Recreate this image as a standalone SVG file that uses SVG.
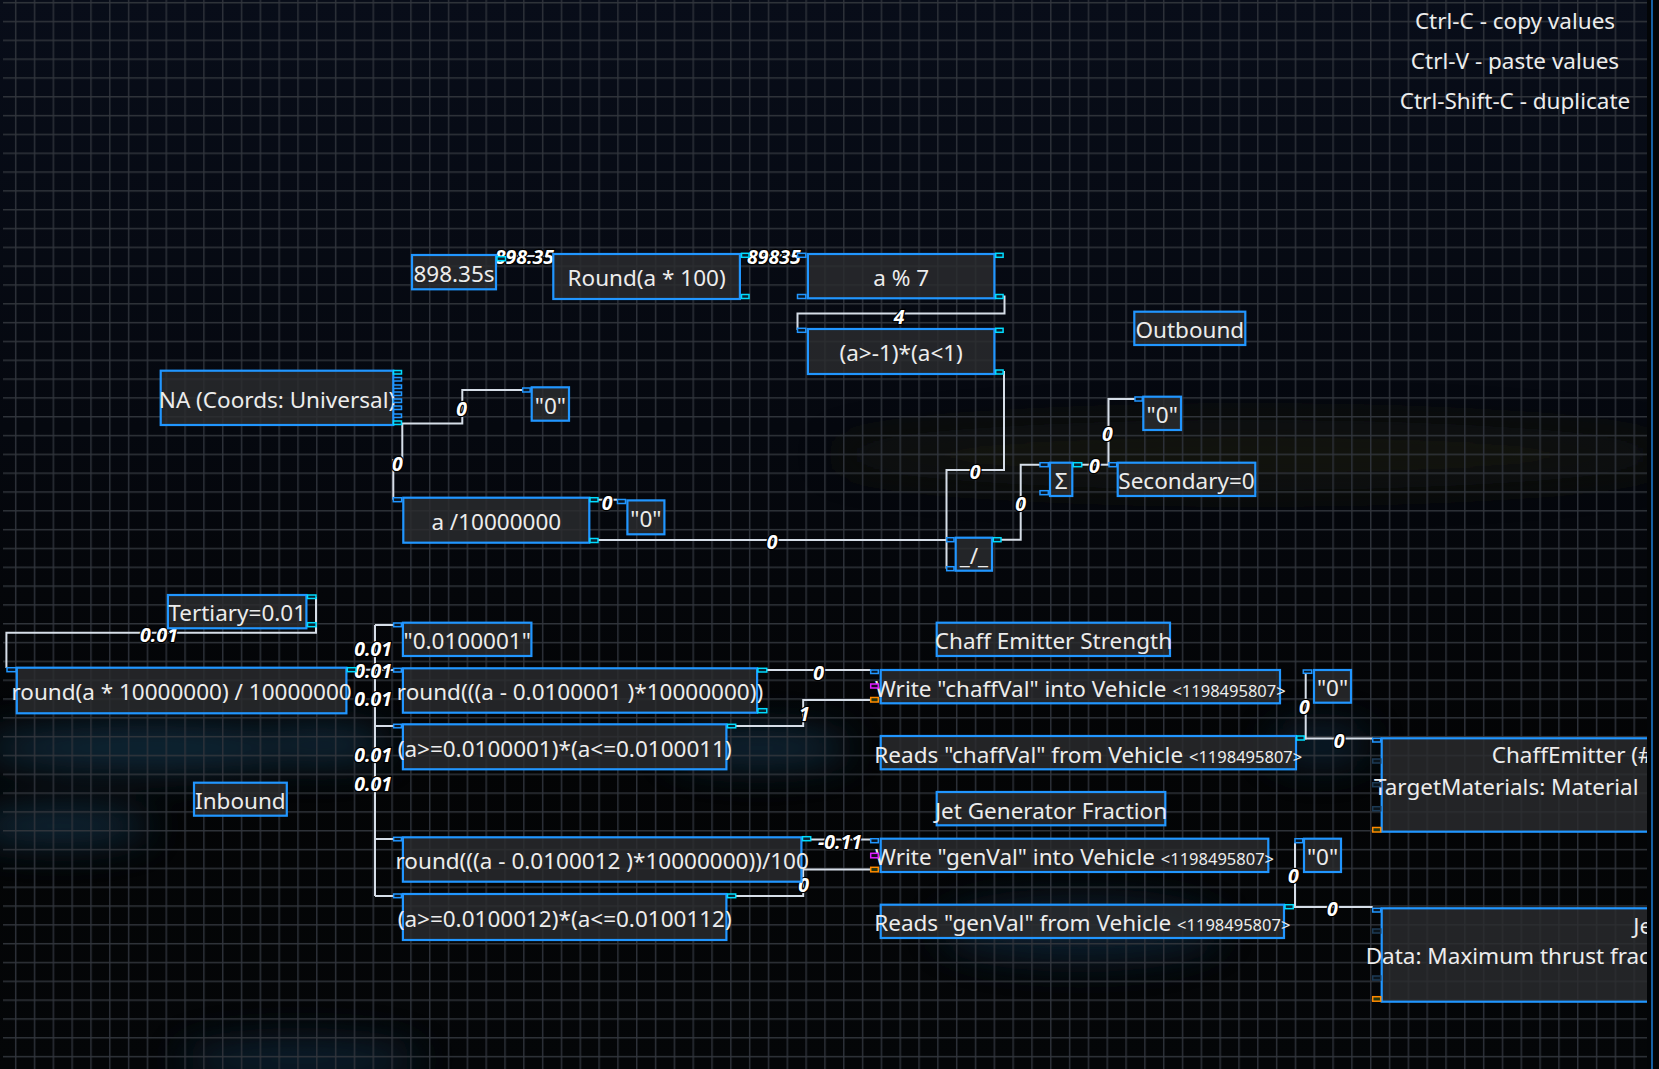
<svg xmlns="http://www.w3.org/2000/svg" width="1659" height="1069" viewBox="0 0 1659 1069">
<defs>
<linearGradient id="bg" x1="0" y1="0" x2="0" y2="1">
<stop offset="0" stop-color="#080d19"/>
<stop offset="0.4" stop-color="#05080f"/>
<stop offset="0.7" stop-color="#030405"/>
<stop offset="1" stop-color="#040608"/>
</linearGradient>
<pattern id="grid" patternUnits="userSpaceOnUse" x="14.95" y="1.95" width="18.82" height="18.82">
<line x1="0.75" y1="0" x2="0.75" y2="18.82" stroke="#2e323a" stroke-width="1.4"/>
<line x1="0" y1="0.75" x2="18.82" y2="0.75" stroke="#31353c" stroke-width="1.4"/>
</pattern>
<filter id="blur" x="-50%" y="-50%" width="200%" height="200%"><feGaussianBlur stdDeviation="18"/></filter>
<clipPath id="canvas"><rect x="0" y="0" width="1647" height="1069"/></clipPath>
<style>
.node rect.box{fill:#2b2c2e;fill-opacity:0.82;stroke:#2196ff;stroke-width:2.2}
.t{font-family:"Noto Sans","Open Sans",sans-serif;font-size:22.5px;fill:#ececec;text-anchor:middle}
.ts{font-size:16.5px}
.tl{text-anchor:start}
.p{fill:#0a1724;stroke:#2196ff;stroke-width:1.5}
.pc{fill:#0a2230;stroke:#00dcff;stroke-width:1.5}
.pm{fill:#1a0a24;stroke:#e020ff;stroke-width:1.5}
.po{fill:#26360c;stroke:#ff8a00;stroke-width:1.5}
.pd{fill:#0a141c;stroke:#1c3a55;stroke-width:1.5}
.c{fill:none;stroke:#d6dee8;stroke-width:2}
.lbl{font-family:"Noto Sans","Open Sans",sans-serif;font-size:19.5px;font-style:italic;font-weight:bold;fill:#ffffff;stroke:#000000;stroke-width:2.5;paint-order:stroke;text-anchor:middle}
.hint{font-family:"Noto Sans","Open Sans",sans-serif;font-size:22.5px;fill:#ececec;text-anchor:middle}
</style>
</defs>
<rect x="0" y="0" width="1659" height="1069" fill="url(#bg)"/>
<g filter="url(#blur)" opacity="0.55">
<ellipse cx="150" cy="748" rx="170" ry="22" fill="#1b4a68"/>
<ellipse cx="320" cy="745" rx="70" ry="18" fill="#1b4a68"/>
<ellipse cx="760" cy="748" rx="90" ry="18" fill="#1b4a68"/>
<ellipse cx="60" cy="826" rx="90" ry="18" fill="#1b4a68"/>
<ellipse cx="1080" cy="930" rx="140" ry="30" fill="#123650"/>
<ellipse cx="1320" cy="745" rx="50" ry="20" fill="#123650"/>
<ellipse cx="300" cy="1060" rx="120" ry="20" fill="#123650"/>
<ellipse cx="1250" cy="455" rx="420" ry="35" fill="#1e1a10"/>
</g>
<rect x="3" y="0" width="1644" height="1069" fill="url(#grid)"/>
<rect x="1647" y="0" width="12" height="1069" fill="#030507"/>
<line x1="1652" y1="0" x2="1652" y2="1069" stroke="#1e7fd8" stroke-width="1.5"/>

<g id="hints">
<text class="hint" x="1515" y="29">Ctrl-C - copy values</text>
<text class="hint" x="1515" y="69">Ctrl-V - paste values</text>
<text class="hint" x="1515" y="108.5">Ctrl-Shift-C - duplicate</text>
</g>

<g clip-path="url(#canvas)">
<g id="connectors">
<path class="c" d="M506,256 H553"/>
<path class="c" d="M749,255.3 H797.5"/>
<path class="c" d="M1003,296.5 H1004.5 V313.5 H797.5 V330"/>
<path class="c" d="M1003,372 H1004 V470 H946.5 V568.7"/>
<path class="c" d="M598,499.7 H617"/>
<path class="c" d="M598,540 H947"/>
<path class="c" d="M402,423.5 H462.3 V390 H523"/>
<path class="c" d="M402.3,424 V460 H393.3 V499.7"/>
<path class="c" d="M1001,539.7 H1020.7 V464.7 H1040"/>
<path class="c" d="M1081.7,464.7 H1109"/>
<path class="c" d="M1108.5,464.7 V399 H1135"/>
<path class="c" d="M316,597 V632.7 H6.4 V668"/>
<path class="c" d="M356,669.7 H375"/>
<path class="c" d="M375,625 V896"/>
<path class="c" d="M375,625 H393.6 M375,670 H393.6 M375,726 H393.6 M375,839 H393.6 M375,896 H393.6"/>
<path class="c" d="M766.8,670 H870.7"/>
<path class="c" d="M735.7,726 H803.2 V700 H870.7"/>
<path class="c" d="M810.7,839.5 H870.7"/>
<path class="c" d="M735.7,896 H803.2 V869.5 H870.7"/>
<path class="c" d="M1304.3,738.5 H1305.7 V673.3"/>
<path class="c" d="M1304.3,738.5 H1372.7"/>
<path class="c" d="M1293.3,907 H1295 V842.7"/>
<path class="c" d="M1293.3,907 H1372.7"/>
<g id="connector-labels">
<text class="lbl" x="524.4" y="264">898.35</text>
<text class="lbl" x="773.8" y="263.5">89835</text>
<text class="lbl" x="899" y="323.5">4</text>
<text class="lbl" x="461.7" y="415.5">0</text>
<text class="lbl" x="397.3" y="470.5">0</text>
<text class="lbl" x="607" y="509.5">0</text>
<text class="lbl" x="772" y="548.5">0</text>
<text class="lbl" x="975" y="478.5">0</text>
<text class="lbl" x="1020.7" y="510.5">0</text>
<text class="lbl" x="1094.3" y="472.5">0</text>
<text class="lbl" x="1107.3" y="440.5">0</text>
<text class="lbl" x="159" y="641.5">0.01</text>
<text class="lbl" x="373.2" y="655.5">0.01</text>
<text class="lbl" x="373.2" y="677.5">0.01</text>
<text class="lbl" x="373.2" y="705.5">0.01</text>
<text class="lbl" x="373.2" y="761.5">0.01</text>
<text class="lbl" x="373.2" y="790.5">0.01</text>
<text class="lbl" x="818.6" y="680">0</text>
<text class="lbl" x="804.3" y="720.5">1</text>
<text class="lbl" x="840" y="848.5">-0.11</text>
<text class="lbl" x="803.6" y="891.5">0</text>
<text class="lbl" x="1304.3" y="714">0</text>
<text class="lbl" x="1339" y="747.5">0</text>
<text class="lbl" x="1293.3" y="882.5">0</text>
<text class="lbl" x="1332.3" y="915.5">0</text>
</g>
</g>

<g id="n-time" class="node">
<rect class="box" x="412" y="255" width="84" height="34.3"/>
<text class="t" x="454" y="281.5">898.35s</text>
<rect class="pc" x="497" y="256.7" width="8.5" height="4"/>
</g>
<g id="n-round100" class="node">
<rect class="box" x="553.3" y="254" width="186.6" height="45"/>
<text class="t" x="646.6" y="286">Round(a * 100)</text>
<rect class="pc" x="741.5" y="253.3" width="7.5" height="4"/>
<rect class="pc" x="741.5" y="294.5" width="7.5" height="4"/>
</g>
<g id="n-mod7" class="node">
<rect class="box" x="807.9" y="254" width="186.5" height="44.3"/>
<text class="t" x="901.2" y="285.5">a % 7</text>
<rect class="p" x="797.5" y="253.3" width="8.3" height="4"/>
<rect class="p" x="797.5" y="294.5" width="8.3" height="4"/>
<rect class="pc" x="995.7" y="253.3" width="7.4" height="4"/>
<rect class="pc" x="995.7" y="294.5" width="7.4" height="4"/>
</g>
<g id="n-range1" class="node">
<rect class="box" x="807.9" y="329" width="186.5" height="45"/>
<text class="t" x="901.2" y="361">(a&gt;-1)*(a&lt;1)</text>
<rect class="p" x="797.5" y="328.3" width="8.3" height="4"/>
<rect class="pc" x="995.7" y="328.3" width="7.4" height="4"/>
<rect class="pc" x="995.7" y="370" width="7.4" height="4"/>
</g>
<g id="n-na" class="node">
<rect class="box" x="160.7" y="370.7" width="232.6" height="54.3"/>
<text class="t" x="277" y="407.5">NA (Coords: Universal)</text>
<rect class="pc" x="393.5" y="370.5" width="8" height="3.5"/>
<rect class="p" x="393.5" y="377.5" width="8" height="3.5"/>
<rect class="p" x="393.5" y="385" width="8" height="3.5"/>
<rect class="p" x="393.5" y="392" width="8" height="3.5"/>
<rect class="p" x="393.5" y="399" width="8" height="3.5"/>
<rect class="p" x="393.5" y="406" width="8" height="3.5"/>
<rect class="p" x="393.5" y="414" width="8" height="3.5"/>
<rect class="pc" x="393.5" y="421" width="8" height="3.5"/>
</g>
<g id="n-zero1" class="node">
<rect class="box" x="531.7" y="387.3" width="37.3" height="33.4"/>
<text class="t" x="550.4" y="413.5">"0"</text>
<rect class="p" x="522.7" y="388" width="7.5" height="4"/>
</g>
<g id="n-div" class="node">
<rect class="box" x="403.3" y="497.7" width="186" height="45"/>
<text class="t" x="496.3" y="529.5">a /10000000</text>
<rect class="p" x="393.3" y="497.7" width="8.4" height="4"/>
<rect class="pc" x="590" y="497.7" width="8" height="4"/>
<rect class="pc" x="590" y="538.5" width="8" height="4"/>
</g>
<g id="n-zero2" class="node">
<rect class="box" x="627.4" y="500.4" width="37" height="33.9"/>
<text class="t" x="645.9" y="527">"0"</text>
<rect class="p" x="617.5" y="499.5" width="8" height="4"/>
</g>
<g id="n-sqrt" class="node">
<rect class="box" x="955.7" y="537.7" width="36.3" height="33"/>
<text class="t" x="973.9" y="563.5">_/_</text>
<rect class="p" x="946.7" y="537.7" width="7.3" height="4"/>
<rect class="p" x="946.7" y="566.7" width="7.3" height="4"/>
<rect class="pc" x="993.3" y="537.7" width="7.7" height="4"/>
</g>
<g id="n-sum" class="node">
<rect class="box" x="1050" y="462.7" width="22.3" height="33.3"/>
<text class="t" x="1061.2" y="488.5">Σ</text>
<rect class="p" x="1040" y="462.7" width="8.3" height="4"/>
<rect class="p" x="1040" y="490.7" width="8.3" height="4"/>
<rect class="pc" x="1073.3" y="462.7" width="8.4" height="4"/>
</g>
<g id="n-secondary" class="node">
<rect class="box" x="1117.7" y="462.7" width="137.6" height="33.3"/>
<text class="t" x="1186.5" y="488.5">Secondary=0</text>
<rect class="p" x="1109" y="462.7" width="7.7" height="4"/>
</g>
<g id="n-zero3" class="node">
<rect class="box" x="1143.3" y="396.7" width="37.7" height="33.3"/>
<text class="t" x="1162.2" y="422.5">"0"</text>
<rect class="p" x="1135" y="397" width="7.3" height="4"/>
</g>
<g id="n-outbound" class="node">
<rect class="box" x="1134.3" y="311.7" width="111" height="33.3"/>
<text class="t" x="1189.8" y="337.5">Outbound</text>
</g>
<g id="n-tertiary" class="node">
<rect class="box" x="167.9" y="595" width="138.5" height="33.3"/>
<text class="t" x="237.2" y="621">Tertiary=0.01</text>
<rect class="pc" x="307.5" y="595" width="8.5" height="3.5"/>
<rect class="pc" x="307.5" y="622.7" width="8.5" height="4"/>
</g>
<g id="n-round7" class="node">
<rect class="box" x="16.8" y="667.7" width="329.6" height="45.6"/>
<text class="t" x="181.6" y="700">round(a * 10000000) / 10000000</text>
<rect class="p" x="7" y="667.7" width="9" height="4"/>
<rect class="pc" x="347.3" y="667.7" width="8.7" height="4"/>
</g>
<g id="n-str1" class="node">
<rect class="box" x="402.9" y="622.7" width="128.5" height="33.3"/>
<text class="t" x="467.2" y="648.8">"0.0100001"</text>
<rect class="p" x="393.6" y="623" width="7.8" height="3.7"/>
</g>
<g id="n-chaffcalc" class="node">
<rect class="box" x="402.9" y="668.3" width="354.2" height="44.4"/>
<text class="t" x="580" y="700">round(((a - 0.0100001 )*10000000))</text>
<rect class="p" x="393.6" y="668.3" width="7.8" height="3.7"/>
<rect class="pc" x="757.9" y="668.3" width="8.9" height="3.7"/>
<rect class="pc" x="757.9" y="708.7" width="8.9" height="4"/>
</g>
<g id="n-chaffrange" class="node">
<rect class="box" x="402.9" y="724.3" width="323.5" height="45"/>
<text class="t" x="564.7" y="756.5">(a&gt;=0.0100001)*(a&lt;=0.0100011)</text>
<rect class="p" x="393.6" y="724.3" width="7.8" height="3.5"/>
<rect class="pc" x="727.5" y="724.3" width="8.2" height="3.5"/>
</g>
<g id="n-inbound" class="node">
<rect class="box" x="194" y="782.7" width="92.8" height="33"/>
<text class="t" x="240.4" y="808.5">Inbound</text>
</g>
<g id="n-gencalc" class="node">
<rect class="box" x="402.9" y="837.3" width="398.5" height="44.4"/>
<text class="t" x="602.2" y="869">round(((a - 0.0100012 )*10000000))/100</text>
<rect class="p" x="393.6" y="837.3" width="7.8" height="3.5"/>
<rect class="pc" x="802.5" y="836.7" width="8.2" height="4"/>
</g>
<g id="n-genrange" class="node">
<rect class="box" x="402.9" y="894" width="323.5" height="46"/>
<text class="t" x="564.7" y="926.5">(a&gt;=0.0100012)*(a&lt;=0.0100112)</text>
<rect class="p" x="393.6" y="894" width="7.8" height="3.7"/>
<rect class="pc" x="727.5" y="894" width="8.2" height="3.7"/>
</g>
<g id="n-chafflabel" class="node">
<rect class="box" x="936.7" y="622.7" width="233.3" height="33.3"/>
<text class="t" x="1053.4" y="648.8">Chaff Emitter Strength</text>
</g>
<g id="n-writechaff" class="node">
<rect class="box" x="880.7" y="670" width="399.3" height="33.3"/>
<text class="t" x="1080.3" y="696.5">Write "chaffVal" into Vehicle <tspan class="ts">&lt;1198495807&gt;</tspan></text>
<rect class="p" x="870.7" y="670" width="7.6" height="3.5"/>
<rect class="pm" x="870.7" y="684" width="7.6" height="4"/>
<rect class="po" x="870.7" y="697.5" width="7.6" height="4.5"/>
</g>
<g id="n-zero4" class="node">
<rect class="box" x="1314" y="670" width="37" height="32.7"/>
<text class="t" x="1332.5" y="696">"0"</text>
<rect class="p" x="1303.3" y="670" width="8.4" height="3.3"/>
</g>
<g id="n-readchaff" class="node">
<rect class="box" x="880.7" y="736" width="415.3" height="33.3"/>
<text class="t" x="1088.3" y="762.5">Reads "chaffVal" from Vehicle <tspan class="ts">&lt;1198495807&gt;</tspan></text>
<rect class="pc" x="1296.7" y="736" width="7.6" height="4"/>
</g>
<g id="n-genlabel" class="node">
<rect class="box" x="936.7" y="792" width="228.6" height="33.3"/>
<text class="t" x="1051" y="818.5">Jet Generator Fraction</text>
</g>
<g id="n-writegen" class="node">
<rect class="box" x="880.7" y="838.7" width="387.6" height="33.3"/>
<text class="t" x="1074.5" y="865">Write "genVal" into Vehicle <tspan class="ts">&lt;1198495807&gt;</tspan></text>
<rect class="p" x="870.7" y="838.7" width="7.6" height="4"/>
<rect class="pm" x="870.7" y="853.3" width="7.6" height="4.5"/>
<rect class="po" x="870.7" y="867.3" width="7.6" height="4.5"/>
</g>
<g id="n-zero5" class="node">
<rect class="box" x="1304" y="838.7" width="37" height="33.3"/>
<text class="t" x="1322.5" y="865">"0"</text>
<rect class="p" x="1295" y="838.7" width="7.7" height="4"/>
</g>
<g id="n-readgen" class="node">
<rect class="box" x="880.7" y="904.7" width="403.3" height="33.3"/>
<text class="t" x="1082.3" y="931">Reads "genVal" from Vehicle <tspan class="ts">&lt;1198495807&gt;</tspan></text>
<rect class="pc" x="1285" y="904.7" width="8.3" height="4"/>
</g>
<g id="n-chaffemitter" class="node">
<rect class="box" x="1381.7" y="738.3" width="280" height="93.4"/>
<text class="t tl" x="1491.7" y="762.5">ChaffEmitter (#</text>
<text class="t tl" x="1374" y="795">TargetMaterials: Material</text>
<rect class="p" x="1372.7" y="738.3" width="8" height="3.7"/>
<rect class="pd" x="1372.7" y="759" width="8" height="4"/>
<rect class="pd" x="1372.7" y="782.7" width="8" height="4"/>
<rect class="pd" x="1372.7" y="806.7" width="8" height="4"/>
<rect class="po" x="1372.7" y="827.5" width="8" height="4.5"/>
</g>
<g id="n-jetgen" class="node">
<rect class="box" x="1381.7" y="908.3" width="280" height="93.4"/>
<text class="t tl" x="1633.3" y="934.3">Je</text>
<text class="t tl" x="1365.7" y="964.3">Data: Maximum thrust frac</text>
<rect class="p" x="1372.7" y="908.3" width="8" height="3.7"/>
<rect class="pd" x="1372.7" y="929" width="8" height="4"/>
<rect class="pd" x="1372.7" y="976" width="8" height="4"/>
<rect class="po" x="1372.7" y="996.7" width="8" height="4.5"/>
</g>
</g>
</svg>
